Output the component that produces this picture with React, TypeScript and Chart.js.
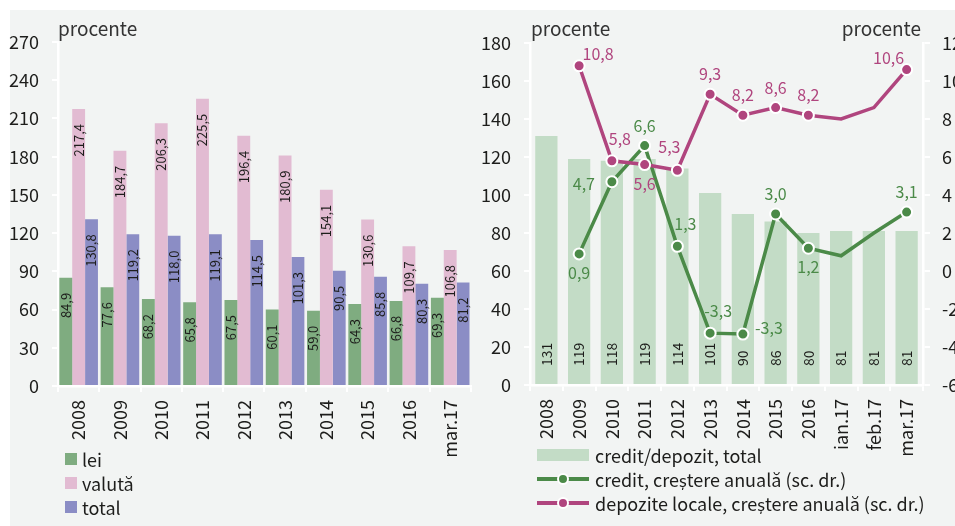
import { useEffect, useRef } from 'react';
import { Chart, registerables } from 'chart.js';

Chart.register(...registerables);

// ---------- data ----------
const leftCategories = ['2008', '2009', '2010', '2011', '2012', '2013', '2014', '2015', '2016', 'mar.17'];
const leiValues = [84.9, 77.6, 68.2, 65.8, 67.5, 60.1, 59.0, 64.3, 66.8, 69.3];
const valutaValues = [217.4, 184.7, 206.3, 225.5, 196.4, 180.9, 154.1, 130.6, 109.7, 106.8];
const totalValues = [130.8, 119.2, 118.0, 119.1, 114.5, 101.3, 90.5, 85.8, 80.3, 81.2];
const leftSeriesNames = ['lei', 'valută', 'total'];

const rightCategories = ['2008', '2009', '2010', '2011', '2012', '2013', '2014', '2015', '2016', 'ian.17', 'feb.17', 'mar.17'];
const creditDepositValues = [131, 119, 118, 119, 114, 101, 90, 86, 80, 81, 81, 81];
const creditGrowthValues = [null, 0.9, 4.7, 6.6, 1.3, -3.27, -3.32, 3.0, 1.2, 0.8, 2.0, 3.1];
const depositGrowthValues = [null, 10.8, 5.8, 5.6, 5.3, 9.3, 8.2, 8.6, 8.2, 8.0, 8.6, 10.6];
const rightSeriesNames = ['credit/depozit, total', 'credit, creștere anuală (sc. dr.)', 'depozite locale, creștere anuală (sc. dr.)'];

const leftAxis = { min: 0, max: 270, step: 30 };
const rightAxisLeft = { min: 0, max: 180, step: 20 };
const rightAxisRight = { min: -6, max: 12, step: 2 };
const unitLabel = 'procente';

// label placement (style) for line point labels; null = no marker / label
const creditLabelPos = [null, 's', 'w', 'n', 'nne', 'nne', 'e', 'n', 's', null, null, 'n'];
const depositLabelPos = [null, 'ne', 'nne', 's', 'nnw', 'n', 'n', 'n', 'n', null, null, 'nw'];

// ---------- styles ----------
const COND = "'Noto Sans CJK SC', 'Liberation Sans Narrow', sans-serif";
const SANS = "'Noto Sans CJK SC', Lato, sans-serif";
const C_LEI = '#7fac80';
const C_VAL = '#e2bbd2';
const C_TOT = '#8b8dc5';
const C_RATIO = '#c3dcc6';
const C_CREDIT = '#4b8a48';
const C_DEPOSIT = '#b0457e';
const C_BG = '#f2f4f3';
const C_TEXT = '#1d1d1b';

const offsets: Record<string, [number, number]> = {
  n: [0, -20],
  s: [0, 19],
  w: [-28, 2],
  e: [26, -6],
  ne: [19, -12],
  nw: [-18, -12],
  nne: [8, -22],
  nnw: [-8, -23],
};

const fmt = (v: number) => v.toFixed(1).replace('.', ',');

const axisCommon = (font: number) => ({
  grid: { drawOnChartArea: false, color: '#ffffff', lineWidth: 2, tickLength: 6 },
  border: { color: '#ffffff', width: 2.5 },
  ticks: { color: C_TEXT, font: { family: COND, size: font } },
});

const leftBarLabels = {
  id: 'leftBarLabels',
  afterDatasetsDraw(chart: any) {
    const ctx = chart.ctx;
    chart.data.datasets.forEach((ds: any, i: number) => {
      const meta = chart.getDatasetMeta(i);
      meta.data.forEach((el: any, j: number) => {
        const v = ds.data[j];
        ctx.save();
        ctx.translate(el.x, el.y + 15);
        ctx.rotate(-Math.PI / 2);
        ctx.textAlign = 'right';
        ctx.textBaseline = 'middle';
        ctx.font = `13px ${COND}`;
        ctx.fillStyle = C_TEXT;
        ctx.fillText(fmt(v), 0, 0);
        ctx.restore();
      });
    });
  },
};

const rightLabels = {
  id: 'rightLabels',
  afterDatasetsDraw(chart: any) {
    const ctx = chart.ctx;
    const barMeta = chart.getDatasetMeta(0);
    barMeta.data.forEach((el: any, j: number) => {
      ctx.save();
      ctx.translate(el.x, el.base - 18);
      ctx.rotate(-Math.PI / 2);
      ctx.textAlign = 'left';
      ctx.textBaseline = 'middle';
      ctx.font = `14px ${COND}`;
      ctx.fillStyle = C_TEXT;
      ctx.fillText(String(chart.data.datasets[0].data[j]), 0, 0);
      ctx.restore();
    });
    const drawLine = (idx: number, pos: (string | null)[], color: string) => {
      const meta = chart.getDatasetMeta(idx);
      const data = chart.data.datasets[idx].data;
      meta.data.forEach((el: any, j: number) => {
        const p = pos[j];
        if (!p || data[j] == null) return;
        const [dx, dy] = offsets[p];
        ctx.save();
        ctx.textAlign = 'center';
        ctx.textBaseline = 'middle';
        ctx.font = `16px ${COND}`;
        ctx.fillStyle = color;
        ctx.fillText(fmt(data[j]), el.x + dx, el.y + dy);
        ctx.restore();
      });
    };
    drawLine(1, creditLabelPos, C_CREDIT);
    drawLine(2, depositLabelPos, C_DEPOSIT);
  },
};

export default function App() {
  const leftRef = useRef<HTMLCanvasElement>(null);
  const rightRef = useRef<HTMLCanvasElement>(null);

  useEffect(() => {
    const leftAxisCfg = axisCommon(18);
    const c1 = new Chart(leftRef.current as HTMLCanvasElement, {
      type: 'bar',
      data: {
        labels: leftCategories,
        datasets: [
          { label: leftSeriesNames[0], data: leiValues, backgroundColor: C_LEI },
          { label: leftSeriesNames[1], data: valutaValues, backgroundColor: C_VAL },
          { label: leftSeriesNames[2], data: totalValues, backgroundColor: C_TOT },
        ].map((d) => ({ ...d, barPercentage: 1, categoryPercentage: 0.935, borderWidth: 0 })),
      },
      options: {
        responsive: false,
        animation: false,
        events: [],
        devicePixelRatio: 1,
        layout: { padding: { top: 42, right: 4, left: 0, bottom: 0 } },
        plugins: { legend: { display: false }, tooltip: { enabled: false } },
        scales: {
          x: {
            ...leftAxisCfg,
            grid: { ...leftAxisCfg.grid, offset: true },
            ticks: { ...leftAxisCfg.ticks, maxRotation: 90, minRotation: 90, padding: 8, autoSkip: false },
            afterFit: (s: any) => { s.height = 84; },
          },
          y: {
            ...leftAxisCfg,
            min: leftAxis.min,
            max: leftAxis.max,
            ticks: { ...leftAxisCfg.ticks, stepSize: leftAxis.step, padding: 13 },
            afterFit: (s: any) => { s.width = 58; },
          },
        },
      } as any,
      plugins: [leftBarLabels],
    });

    const rc = axisCommon(18);
    const c2 = new Chart(rightRef.current as HTMLCanvasElement, {
      type: 'bar',
      data: {
        labels: rightCategories,
        datasets: [
          {
            type: 'bar',
            label: rightSeriesNames[0],
            data: creditDepositValues,
            backgroundColor: C_RATIO,
            barPercentage: 0.68,
            categoryPercentage: 1,
            yAxisID: 'y',
            order: 3,
          },
          {
            type: 'line',
            label: rightSeriesNames[1],
            data: creditGrowthValues,
            borderColor: C_CREDIT,
            backgroundColor: C_CREDIT,
            borderWidth: 3.5,
            pointBackgroundColor: C_CREDIT,
            pointBorderColor: '#ffffff',
            pointBorderWidth: 2,
            pointRadius: (ctx: any) => (creditLabelPos[ctx.dataIndex] ? 5.5 : 0),
            tension: 0,
            yAxisID: 'y1',
            order: 2,
          },
          {
            type: 'line',
            label: rightSeriesNames[2],
            data: depositGrowthValues,
            borderColor: C_DEPOSIT,
            backgroundColor: C_DEPOSIT,
            borderWidth: 3.5,
            pointBackgroundColor: C_DEPOSIT,
            pointBorderColor: '#ffffff',
            pointBorderWidth: 2,
            pointRadius: (ctx: any) => (depositLabelPos[ctx.dataIndex] ? 5.5 : 0),
            tension: 0,
            yAxisID: 'y1',
            order: 1,
          },
        ],
      } as any,
      options: {
        responsive: false,
        animation: false,
        events: [],
        devicePixelRatio: 1,
        layout: { padding: { top: 43, right: 0, left: 0, bottom: 0 } },
        plugins: { legend: { display: false }, tooltip: { enabled: false } },
        scales: {
          x: {
            ...rc,
            offset: true,
            grid: { ...rc.grid, offset: true },
            ticks: { ...rc.ticks, maxRotation: 90, minRotation: 90, padding: 8, autoSkip: false },
            afterFit: (s: any) => { s.height = 85; },
          },
          y: {
            ...rc,
            position: 'left',
            min: rightAxisLeft.min,
            max: rightAxisLeft.max,
            ticks: { ...rc.ticks, stepSize: rightAxisLeft.step, padding: 13 },
            afterFit: (s: any) => { s.width = 50; },
          },
          y1: {
            ...rc,
            position: 'right',
            min: rightAxisRight.min,
            max: rightAxisRight.max,
            grid: { ...rc.grid, tickLength: 7 },
            ticks: { ...rc.ticks, stepSize: rightAxisRight.step, padding: 12 },
            afterFit: (s: any) => { s.width = 77; },
          },
        },
      } as any,
      plugins: [rightLabels],
    });

    return () => {
      c1.destroy();
      c2.destroy();
    };
  }, []);

  const legendText: React.CSSProperties = {
    position: 'absolute',
    fontFamily: SANS,
    fontSize: 18,
    color: C_TEXT,
    lineHeight: '24px',
    whiteSpace: 'nowrap',
  };
  const unitText: React.CSSProperties = { ...legendText, fontSize: 19, color: '#333', top: 16 };
  const leftColors = [C_LEI, C_VAL, C_TOT];
  const rightColors = [C_RATIO, C_CREDIT, C_DEPOSIT];

  return (
    <div style={{ position: 'absolute', left: 0, top: 0, width: 955, height: 526, overflow: 'hidden', background: '#ffffff' }}>
      <div style={{ position: 'absolute', left: 10, top: 10, right: 0, bottom: 0, background: C_BG }} />
      <canvas ref={leftRef} width={480} height={470} style={{ position: 'absolute', left: 0, top: 0, width: 480, height: 470 }} />
      <canvas ref={rightRef} width={520} height={470} style={{ position: 'absolute', left: 480, top: 0, width: 520, height: 470 }} />

      <div style={{ ...unitText, left: 58 }}>{unitLabel}</div>
      <div style={{ ...unitText, left: 531 }}>{unitLabel}</div>
      <div style={{ ...unitText, left: 721, width: 200, textAlign: 'right' }}>{unitLabel}</div>

      {leftSeriesNames.map((name, i) => (
        <div key={name}>
          <div style={{ position: 'absolute', left: 65, top: 453 + i * 24, width: 12, height: 12, background: leftColors[i] }} />
          <div style={{ ...legendText, left: 82, top: 447 + i * 24 }}>{name}</div>
        </div>
      ))}

      {rightSeriesNames.map((name, i) => (
        <div key={name}>
          {i === 0 ? (
            <div style={{ position: 'absolute', left: 537, top: 449, width: 52, height: 12, background: rightColors[0] }} />
          ) : (
            <>
              <div style={{ position: 'absolute', left: 537, top: 455 + i * 24 - 2, width: 52, height: 4, background: rightColors[i] }} />
              <div style={{ position: 'absolute', left: 557, top: 455 + i * 24 - 6, width: 8, height: 8, borderRadius: '50%', background: rightColors[i], border: '2px solid #fff' }} />
            </>
          )}
          <div style={{ ...legendText, left: 595, top: 443 + i * 24 }}>{name}</div>
        </div>
      ))}
    </div>
  );
}
